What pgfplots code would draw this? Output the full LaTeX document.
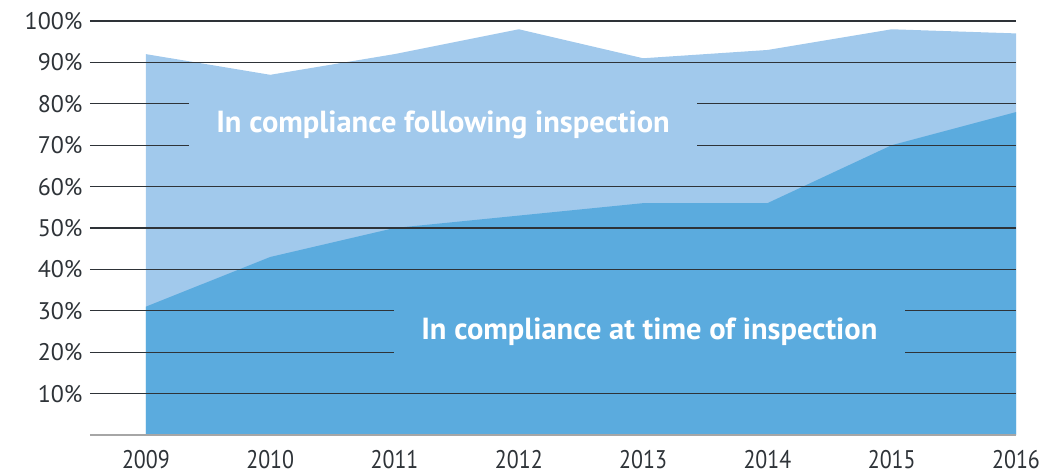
\documentclass[border=0pt]{standalone}
\usepackage{graphicx}
\usepackage{fontspec}
\setmainfont{PT Sans}
\usepackage{pgfplots}
\pgfplotsset{compat=1.18}
\definecolor{lightb}{HTML}{A1C9EC}
\definecolor{darkb}{HTML}{5BABDE}
\definecolor{gridc}{HTML}{2E3338}
\begin{document}
\begin{tikzpicture}
\useasboundingbox (-90bp,-41bp) rectangle (960bp,435bp);
\begin{axis}[
  at={(0,0)}, anchor=south west,
  scale only axis,
  width=926bp, height=414bp,
  xmin=2008.55, xmax=2016,
  ymin=0, ymax=100,
  axis on top,
  axis line style={draw=none},
  tick style={draw=none},
  ytick={10,20,30,40,50,60,70,80,90,100},
  yticklabels={10\%,20\%,30\%,40\%,50\%,60\%,70\%,80\%,90\%,100\%},
  xtick={2009,2010,2011,2012,2013,2014,2015,2016},
  xticklabels={2009,2010,2011,2012,2013,2014,2015,2016},
  xticklabel style={font=\fontsize{25.5bp}{27bp}\selectfont, xscale=0.86, yshift=-12bp, text=gridc, text depth=0pt},
  yticklabel style={font=\fontsize{24bp}{26bp}\selectfont, xshift=-4bp, text=gridc},
  ymajorgrids,
  grid style={gridc, line width=1.1bp},
  extra y ticks={0},
  extra y tick labels={},
  extra y tick style={grid style={gray!70, line width=1.6bp}},
  clip=false,
]
\addplot[fill=lightb, draw=none] coordinates {
  (2009,92) (2010,87) (2011,92) (2012,98) (2013,91) (2014,93) (2015,98) (2016,97)
} \closedcycle;
\addplot[fill=darkb, draw=none] coordinates {
  (2009,31) (2010,43) (2011,50) (2012,53) (2013,56) (2014,56) (2015,70) (2016,78)
} \closedcycle;
\coordinate (L1) at (axis cs:2011.39,75);
\coordinate (L2) at (axis cs:2013.05,25);
\end{axis}
\node[fill=lightb, text=white, minimum width=508bp, minimum height=62bp, inner sep=0pt,
  font=\fontsize{30.5bp}{32bp}\selectfont\bfseries] at (L1) {In compliance following inspection};
\node[fill=darkb, text=white, minimum width=511bp, minimum height=62bp, inner sep=0pt,
  font=\fontsize{30.5bp}{32bp}\selectfont\bfseries] at (L2) {In compliance at time of inspection};
\end{tikzpicture}
\end{document}
